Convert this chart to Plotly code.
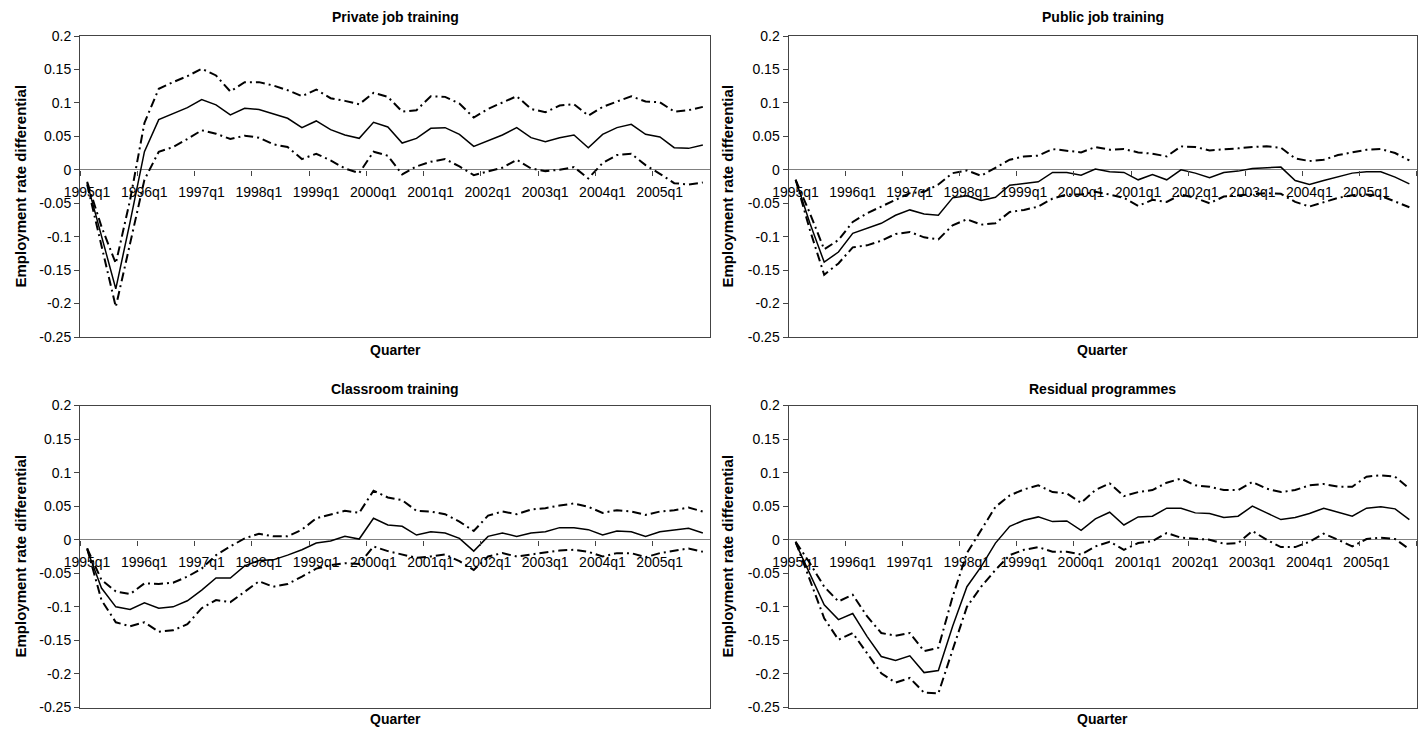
import plotly.graph_objects as go

# ---------------- data ----------------
QUARTERS = [
    "1995q1", "1995q2", "1995q3", "1995q4", "1996q1", "1996q2", "1996q3", "1996q4",
    "1997q1", "1997q2", "1997q3", "1997q4", "1998q1", "1998q2", "1998q3", "1998q4",
    "1999q1", "1999q2", "1999q3", "1999q4", "2000q1", "2000q2", "2000q3", "2000q4",
    "2001q1", "2001q2", "2001q3", "2001q4", "2002q1", "2002q2", "2002q3", "2002q4",
    "2003q1", "2003q2", "2003q3", "2003q4", "2004q1", "2004q2", "2004q3", "2004q4",
    "2005q1", "2005q2", "2005q3", "2005q4",
]
TICK_LABELS = ["1995q1", "1996q1", "1997q1", "1998q1", "1999q1", "2000q1",
               "2001q1", "2002q1", "2003q1", "2004q1", "2005q1"]
Y_TICKS = [-0.25, -0.2, -0.15, -0.1, -0.05, 0, 0.05, 0.1, 0.15, 0.2]
Y_TICK_TEXT = ["-0.25", "-0.2", "-0.15", "-0.1", "-0.05", "0", "0.05", "0.1", "0.15", "0.2"]
PANEL_TITLES = ["Private job training", "Public job training",
                "Classroom training", "Residual programmes"]
Y_TITLE = "Employment rate differential"
X_TITLE = "Quarter"

private_est = [-0.02, -0.10, -0.178, -0.078, 0.027, 0.075, 0.084, 0.093, 0.105, 0.097,
               0.082, 0.092, 0.09, 0.084, 0.077, 0.063, 0.073, 0.06, 0.052, 0.047,
               0.071, 0.064, 0.04, 0.047, 0.062, 0.063, 0.053, 0.035, 0.043, 0.052,
               0.063, 0.048, 0.042, 0.048, 0.052, 0.033, 0.053, 0.063, 0.068, 0.053,
               0.049, 0.033, 0.032, 0.037]
private_upper = [-0.018, -0.085, -0.14, -0.045, 0.07, 0.121, 0.131, 0.14, 0.151, 0.141,
                 0.117, 0.131, 0.131, 0.126, 0.119, 0.11, 0.12, 0.107, 0.103, 0.098,
                 0.115, 0.109, 0.087, 0.089, 0.11, 0.109, 0.099, 0.078, 0.091, 0.101,
                 0.11, 0.091, 0.086, 0.096, 0.098, 0.081, 0.094, 0.102, 0.11, 0.102,
                 0.101, 0.087, 0.089, 0.094]
private_lower = [-0.022, -0.115, -0.205, -0.11, -0.015, 0.027, 0.034, 0.046, 0.059, 0.054,
                 0.046, 0.051, 0.048, 0.038, 0.034, 0.016, 0.024, 0.014, 0.002, -0.005,
                 0.027, 0.021, -0.007, 0.005, 0.012, 0.016, 0.005, -0.008, -0.002, 0.003,
                 0.015, 0.002, -0.002, 0.0, 0.004, -0.013, 0.01, 0.022, 0.024, 0.007,
                 -0.006, -0.02, -0.022, -0.019]

public_est = [-0.015, -0.08, -0.138, -0.123, -0.095, -0.087, -0.08, -0.068, -0.06, -0.066,
              -0.068, -0.042, -0.039, -0.046, -0.041, -0.023, -0.021, -0.018, -0.004, -0.004,
              -0.008, 0.001, -0.003, -0.004, -0.015, -0.007, -0.015, 0.0, -0.005, -0.012,
              -0.004, -0.002, 0.002, 0.003, 0.004, -0.016, -0.022, -0.016, -0.01, -0.005,
              -0.003, -0.003, -0.011, -0.021]
public_upper = [-0.015, -0.065, -0.119, -0.105, -0.078, -0.065, -0.055, -0.045, -0.035, -0.033,
                -0.022, -0.005, -0.001, -0.009, 0.003, 0.015, 0.02, 0.021, 0.031, 0.029,
                0.026, 0.034, 0.03, 0.031, 0.026, 0.024, 0.02, 0.035, 0.034, 0.029,
                0.03, 0.032, 0.034, 0.035, 0.033, 0.017, 0.013, 0.015, 0.022, 0.026,
                0.03, 0.031, 0.025, 0.014]
public_lower = [-0.015, -0.09, -0.157, -0.14, -0.116, -0.113, -0.106, -0.096, -0.093, -0.101,
                -0.104, -0.083, -0.074, -0.082, -0.08, -0.063, -0.06, -0.055, -0.043, -0.037,
                -0.037, -0.033, -0.037, -0.042, -0.054, -0.045, -0.048, -0.037, -0.042, -0.05,
                -0.04, -0.038, -0.036, -0.035, -0.036, -0.048, -0.055, -0.048, -0.042, -0.038,
                -0.037, -0.039, -0.047, -0.056]

classroom_est = [-0.015, -0.072, -0.1, -0.104, -0.094, -0.102, -0.1, -0.091, -0.075, -0.057,
                 -0.057, -0.039, -0.031, -0.03, -0.023, -0.015, -0.005, -0.002, 0.005, 0.001,
                 0.032, 0.022, 0.02, 0.007, 0.012, 0.01, 0.002, -0.017, 0.005, 0.01,
                 0.005, 0.01, 0.012, 0.018, 0.018, 0.015, 0.007, 0.013, 0.012, 0.005,
                 0.012, 0.015, 0.017, 0.01]
classroom_upper = [-0.013, -0.06, -0.077, -0.081, -0.065, -0.066, -0.064, -0.055, -0.043, -0.023,
                   -0.01, 0.002, 0.009, 0.005, 0.005, 0.015, 0.032, 0.038, 0.043, 0.04,
                   0.073, 0.063, 0.059, 0.043, 0.042, 0.038, 0.027, 0.013, 0.036, 0.042,
                   0.038, 0.045, 0.047, 0.051, 0.054, 0.049, 0.04, 0.044, 0.042, 0.037,
                   0.042, 0.044, 0.048, 0.042]
classroom_lower = [-0.013, -0.09, -0.123, -0.129, -0.123, -0.137, -0.135, -0.126, -0.102, -0.09,
                   -0.093, -0.077, -0.062, -0.07, -0.066, -0.055, -0.043, -0.038, -0.035, -0.036,
                   -0.01, -0.017, -0.022, -0.027, -0.025, -0.022, -0.032, -0.045, -0.025, -0.02,
                   -0.025, -0.022, -0.02, -0.016, -0.015, -0.018, -0.025, -0.02, -0.02, -0.026,
                   -0.02, -0.017, -0.013, -0.018]

residual_est = [-0.005, -0.05, -0.097, -0.119, -0.11, -0.144, -0.174, -0.18, -0.173, -0.198,
                -0.195, -0.129, -0.07, -0.04, -0.005, 0.02, 0.029, 0.034, 0.027, 0.028,
                0.014, 0.031, 0.041, 0.022, 0.034, 0.035, 0.047, 0.047, 0.04, 0.039,
                0.033, 0.035, 0.05, 0.04, 0.03, 0.033, 0.039, 0.047, 0.041, 0.035,
                0.047, 0.049, 0.046, 0.03]
residual_upper = [-0.003, -0.035, -0.07, -0.092, -0.082, -0.114, -0.139, -0.143, -0.139, -0.166,
                  -0.161, -0.085, -0.02, 0.015, 0.049, 0.066, 0.075, 0.081, 0.071, 0.069,
                  0.055, 0.074, 0.084, 0.065, 0.071, 0.074, 0.085, 0.091, 0.081, 0.079,
                  0.074, 0.074, 0.086, 0.076, 0.071, 0.074, 0.081, 0.083, 0.079, 0.079,
                  0.094, 0.096, 0.094, 0.076]
residual_lower = [-0.003, -0.06, -0.117, -0.149, -0.139, -0.169, -0.199, -0.213, -0.206, -0.228,
                  -0.229, -0.164, -0.1, -0.07, -0.045, -0.023, -0.015, -0.011, -0.018, -0.018,
                  -0.022, -0.01, -0.003, -0.015, -0.005, -0.002, 0.01, 0.003, 0.001, 0.0,
                  -0.006, -0.005, 0.013, 0.0, -0.011, -0.011, -0.003, 0.009, 0.0, -0.01,
                  0.001, 0.003, 0.001, -0.014]

SERIES = [
    (private_est, private_upper, private_lower),
    (public_est, public_upper, public_lower),
    (classroom_est, classroom_upper, classroom_lower),
    (residual_est, residual_upper, residual_lower),
]

# ---------------- layout helpers ----------------
W, H = 1418, 730
FONT = "Liberation Sans, Arial, Helvetica, sans-serif"
FRAME = "#444444"
XDOM = [[80 / W, 710 / W], [788.5 / W, 1416.5 / W]]
YDOM = [[(H - 337) / H, (H - 36) / H], [(H - 707.5) / H, (H - 405.5) / H]]
YMIN, YMAX = -0.25, 0.2

n = len(QUARTERS)
pos = list(range(n))
bound_vals = [i - 0.5 for i in range(0, n + 1, 4)]
bound_text = TICK_LABELS + [""] * (len(bound_vals) - len(TICK_LABELS))
DASHDOT = "9px,4px,2px,4px"

fig = go.Figure()
layout = dict(
    template="none",
    width=W, height=H, autosize=False,
    margin=dict(l=0, r=0, t=0, b=0, pad=0),
    paper_bgcolor="white", plot_bgcolor="white",
    showlegend=False,
    font=dict(family=FONT, color="black", size=14),
)
annotations = []

for k in range(4):
    col, row = k % 2, k // 2
    xd, yd = XDOM[col], YDOM[row]
    base = k + 1
    over = k + 5
    bx = "x" if base == 1 else f"x{base}"
    by = "y" if base == 1 else f"y{base}"
    ox = f"x{over}"
    est, up, lo = SERIES[k]

    fig.add_trace(go.Scatter(x=pos, y=est, text=QUARTERS, mode="lines",
                             line=dict(color="black", width=1.5),
                             xaxis=bx, yaxis=by, hoverinfo="text+y", name="Estimate"))
    fig.add_trace(go.Scatter(x=pos, y=up, text=QUARTERS, mode="lines",
                             line=dict(color="black", width=2, dash=DASHDOT),
                             xaxis=ox, yaxis=by, hoverinfo="text+y", name="Upper bound"))
    fig.add_trace(go.Scatter(x=pos, y=lo, text=QUARTERS, mode="lines",
                             line=dict(color="black", width=2, dash=DASHDOT),
                             xaxis=ox, yaxis=by, hoverinfo="text+y", name="Lower bound"))

    layout["xaxis" if base == 1 else f"xaxis{base}"] = dict(
        domain=xd, anchor=by, range=[-0.5, n - 0.5], automargin=False,
        showline=True, mirror=True, linecolor=FRAME, linewidth=1,
        ticks="", showticklabels=False, showgrid=False, zeroline=False,
        fixedrange=True,
    )
    zero_pos = yd[0] + (0 - YMIN) / (YMAX - YMIN) * (yd[1] - yd[0])
    layout[f"xaxis{over}"] = dict(
        overlaying=bx, anchor="free", position=zero_pos, side="bottom",
        range=[-0.5, n - 0.5], automargin=False, tickmode="array",
        tickvals=bound_vals, ticktext=bound_text,
        ticks="outside", ticklen=5, tickwidth=1, tickcolor=FRAME,
        ticklabelshift=7, ticklabelstandoff=4,
        showline=False, showgrid=False, zeroline=False,
        tickfont=dict(family=FONT, size=14, color="black"),
        fixedrange=True,
    )
    layout["yaxis" if base == 1 else f"yaxis{base}"] = dict(
        domain=yd, anchor=bx, range=[YMIN, YMAX], automargin=False,
        tickmode="array", tickvals=Y_TICKS, ticktext=Y_TICK_TEXT,
        ticks="outside", ticklen=5, tickwidth=1, tickcolor=FRAME,
        showline=True, mirror=True, linecolor=FRAME, linewidth=1,
        showgrid=False, zeroline=True, zerolinecolor="#808080", zerolinewidth=1,
        tickfont=dict(family=FONT, size=14, color="black"),
        fixedrange=True,
    )

    xmid = (xd[0] + xd[1]) / 2
    ymid = (yd[0] + yd[1]) / 2
    title_y = (H - (17 if row == 0 else 389)) / H
    quarter_y = (H - (350 if row == 0 else 719)) / H
    ytitle_x = (20 if col == 0 else 727) / W
    annotations.append(dict(text=f"<b>{PANEL_TITLES[k]}</b>", x=xmid, y=title_y,
                            xref="paper", yref="paper", showarrow=False,
                            xanchor="center", yanchor="middle",
                            font=dict(family=FONT, size=14, color="black")))
    annotations.append(dict(text=f"<b>{X_TITLE}</b>", x=xmid, y=quarter_y,
                            xref="paper", yref="paper", showarrow=False,
                            xanchor="center", yanchor="middle",
                            font=dict(family=FONT, size=14, color="black")))
    annotations.append(dict(text=f"<b>{Y_TITLE}</b>", x=ytitle_x, y=ymid,
                            xref="paper", yref="paper", showarrow=False,
                            textangle=-90, xanchor="center", yanchor="middle",
                            font=dict(family=FONT, size=15, color="black")))

layout["annotations"] = annotations
fig.update_layout(**layout)

fig.write_html("out.html", include_plotlyjs=True, full_html=True,
               config={"displayModeBar": False},
               post_script="document.body.style.margin='0';document.body.style.overflow='hidden';")
